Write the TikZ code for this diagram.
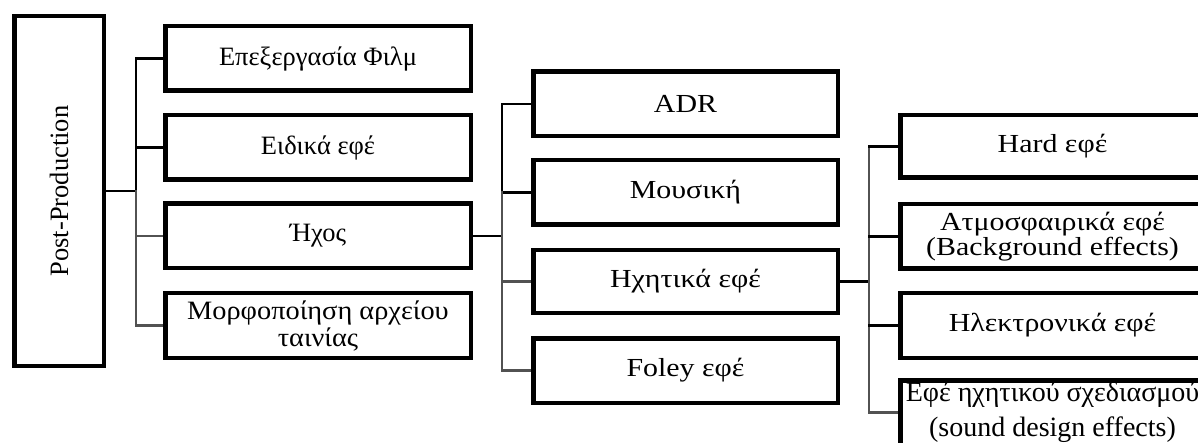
\documentclass[tikz,border=0pt]{standalone}
\usepackage{fontspec}
\setmainfont{Liberation Serif}
\newfontfamily\wfont[FakeStretch=1.15]{Liberation Serif}
\newfontfamily\mfont[FakeStretch=1.07]{Liberation Serif}
\usetikzlibrary{backgrounds}
\begin{document}
\begin{tikzpicture}[x=1pt,y=-1pt,
  box/.style={draw=black, fill=white, line width=4.5pt, minimum width=305.5pt, minimum height=64.5pt,
    inner sep=0pt, align=center, font=\fontsize{26.5}{27}\selectfont},
  rbox/.style={box, minimum width=304.5pt, font=\wfont\fontsize{26}{27}\selectfont},
  ln/.style={line width=2.8pt, black, line cap=rect},
  lng/.style={line width=2.8pt, black!68, line cap=rect}]
\clip (0,0) rectangle (1198,443);
% root
\node[box, minimum width=89.5pt, minimum height=349.5pt] (pp) at (59,191)
  {\rotatebox{90}{Post-Production}};
% level 1
\node[box] (a1) at (318,58.5) {Επεξεργασία Φιλμ};
\node[box] (a2) at (318,147.5) {Ειδικά εφέ};
\node[box] (a3) at (318,236) {Ήχος};
\node[box, font=\mfont\fontsize{26.5}{27}\selectfont] (a4) at (318,325.5) {Μορφοποίηση αρχείου\\ταινίας};
% level 2
\node[rbox] (b1) at (685.5,104) {ADR};
\node[rbox] (b2) at (685.5,192.5) {Μουσική};
\node[rbox, minimum height=62.5pt] (b3) at (685.5,281.5) {Ηχητικά εφέ};
\node[rbox] (b4) at (685.5,370.5) {Foley εφέ};
% level 3
\node[rbox, minimum height=62.5pt] (c1) at (1052.5,146.5) {Hard εφέ};
\node[rbox, font=\wfont\fontsize{26}{22}\selectfont] (c2) at (1052.5,236.5)
  {Ατμοσφαιρικά εφέ\\(Background effects)};
\node[rbox] (c3) at (1052.5,325.5) {Ηλεκτρονικά εφέ};
\node[rbox, font=\fontsize{28}{35}\selectfont] (c4) at (1052.5,412.5)
  {Εφέ ηχητικού σχεδιασμού\\(sound design effects)};
\begin{scope}[on background layer]
\fill[white] (0,0) rectangle (1198,443);
% connectors level 1
\coordinate (j1) at (136,191);
\draw[ln] (pp.east) -- (j1);
\draw[ln] (j1) -- (j1 |- a1.west) -- (a1.west);
\draw[ln] (j1 |- a2.west) -- (a2.west);
\draw[lng] (j1) -- (j1 |- a4.west) -- (a4.west);
\draw[lng] (j1 |- a3.west) -- (a3.west);
% connectors level 2
\coordinate (j2) at (502,236);
\draw[ln] (a3.east) -- (j2);
\draw[ln] (j2 |- b2.west) -- (j2 |- b1.west) -- (b1.west);
\draw[ln] (j2 |- b2.west) -- (b2.west);
\draw[lng] (j2 |- b2.west) -- (j2 |- b4.west) -- (b4.west);
\draw[lng] (j2 |- b3.west) -- (b3.west);
% connectors level 3
\coordinate (j3) at (869,281.5);
\draw[ln] (b3.east) -- (j3);
\draw[lng, line width=2.2pt] (j3 |- c1.west) -- (j3 |- c4.west);
\draw[ln, line width=2.4pt] (j3 |- c1.west) -- (c1.west);
\draw[ln, line width=2.4pt] (j3 |- c2.west) -- (c2.west);
\draw[ln, line width=2.4pt] (j3 |- c3.west) -- (c3.west);
\draw[lng, line width=2.4pt] (j3 |- c4.west) -- (c4.west);
\end{scope}
\end{tikzpicture}
\end{document}
